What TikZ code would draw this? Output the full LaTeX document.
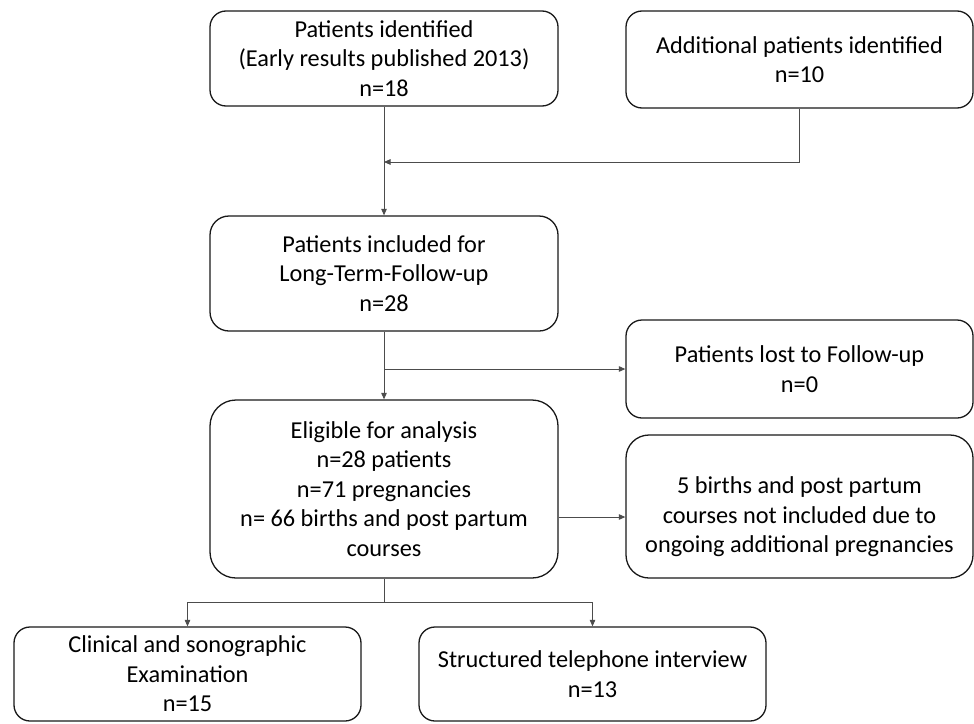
\documentclass[tikz,border=0pt]{standalone}
\usepackage{fontspec}
\setmainfont{Carlito}
\usetikzlibrary{arrows.meta}
\begin{document}
\begin{tikzpicture}[x=1pt,y=-1pt,
  box/.style={draw=black!90, line width=1.3pt, rounded corners=#1, align=center,
    inner sep=0pt, font=\fontsize{24.3}{29.5}\selectfont, fill=white},
  box/.default=16pt,
  txt/.style={align=center, inner sep=0pt, font=\fontsize{24.3}{29.5}\selectfont},
  conn/.style={draw=black!70, line width=0.9pt},
  arr/.style={conn, -{Triangle[length=6.5pt,width=5.5pt]}}]
\useasboundingbox (0,0) rectangle (974,723);
\fill[white] (0,0) rectangle (974,723);

\node[box=16pt, minimum width=348pt, minimum height=95pt] (b1) at (384,58.5)
  {Patients identified\\(Early results published 2013)\\n=18};
\node[box=16pt, minimum width=347pt, minimum height=97pt] (b2) at (799.5,59.5)
  {Additional patients identified\\n=10};
\node[box=19pt, minimum width=348pt, minimum height=115pt] (b3) at (384,273.5)
  {Patients included for\\Long-Term-Follow-up\\n=28};
\node[box=16pt, minimum width=347pt, minimum height=98pt] (b4) at (799.5,369)
  {Patients lost to Follow-up\\n=0};
\node[box=26pt, minimum width=348pt, minimum height=178pt] (b5) at (384,489)
  {Eligible for analysis\\n=28 patients\\n=71 pregnancies\\n= 66 births and post partum\\courses};
\node[box=23pt, minimum width=347pt, minimum height=143pt] (b6) at (799.5,506.5) {};
\node[txt] (b6t) at (799.5,517)
  {5 births and post partum\\courses not included due to\\ongoing additional pregnancies};
\node[box=16pt, minimum width=347pt, minimum height=94pt] (b7) at (187.5,674)
  {Clinical and sonographic\\Examination\\n=15};
\node[box=16pt, minimum width=347pt, minimum height=94pt] (b8) at (592.5,674)
  {Structured telephone interview\\n=13};

\coordinate (m1) at (384,162);
\coordinate (m2) at (384,369);
\coordinate (m3) at (384,602);

\draw[arr] (b1.south) -- (b3.north);
\draw[arr] (b2.south) |- (m1);
\draw[arr] (b3.south) -- (b5.north);
\draw[arr] (m2) -- (b4.west);
\draw[arr] (b5.east |- b6t.center) -- (b6.west |- b6t.center);
\draw[conn] (b5.south) -- (m3);
\draw[arr] (m3) -| (b7.north);
\draw[arr] (m3) -| (b8.north);
\end{tikzpicture}
\end{document}
